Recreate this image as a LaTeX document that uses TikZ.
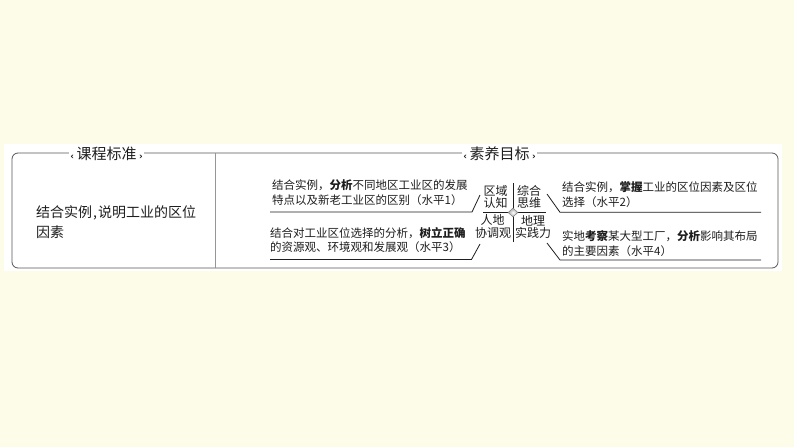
\documentclass[tikz,border=0pt]{standalone}
\usepackage{fontspec}
\setmainfont{Noto Sans CJK SC}
\newfontfamily\symf{DejaVu Sans}
\usetikzlibrary{shapes.geometric}
\definecolor{bgcream}{RGB}{253,252,232}
\definecolor{framegray}{RGB}{85,85,85}
\definecolor{divgray}{RGB}{150,150,150}
\definecolor{ink}{RGB}{30,30,30}
\tikzset{
  txt/.style={anchor=base west, inner sep=0pt, text=ink, font=\fontsize{11.5}{14}\selectfont},
  lbl/.style={anchor=base, inner sep=0pt, text=ink, font=\fontsize{12}{14}\selectfont},
  lefttxt/.style={anchor=base west, inner sep=0pt, text=ink, font=\fontsize{14}{16}\selectfont},
  ttl/.style={anchor=base, fill=white, inner xsep=1.5pt, inner ysep=1pt, text=ink, font=\fontsize{15}{18}\selectfont},
  ulrule/.style={ink, line width=0.8pt},
  crossrule/.style={ink, line width=0.7pt},
}
\begin{document}
\begin{tikzpicture}[x=1pt,y=-1pt]
\useasboundingbox (0,0) rectangle (794,447);
\fill[bgcream] (0,0) rectangle (794,447);
\fill[white] (4,144) rectangle (782,271);
% frame
\draw[framegray, line width=0.8pt, rounded corners=6pt] (12,153) rectangle (778,268);
\draw[divgray, line width=1.6pt] (215.5,153) -- (215.5,268);
% titles
\node[ttl] (t-left) at (106.5,159.5) {{\symf\bfseries\fontsize{9}{10}\selectfont ‹}\,课程标准\,{\symf\bfseries\fontsize{9}{10}\selectfont ›}};
\node[ttl] (t-right) at (499.5,159.5) {{\symf\bfseries\fontsize{9}{10}\selectfont ‹}\,素养目标\,{\symf\bfseries\fontsize{9}{10}\selectfont ›}};
% left text
\node[lefttxt] (std1) at (36,217) {结合实例\kern1pt,\kern1pt说明工业的区位};
\node[lefttxt] (std2) at (36,237) {因素};
% right texts
\node[txt] (a1) at (272,189.5) {结合实例，{\bfseries 分析}不同地区工业区的发展};
\node[txt] (a2) at (272,204.5) {特点以及新老工业区的区别（水平1）};
\node[txt] (c1) at (270,237) {结合对工业区位选择的分析，{\bfseries 树立正确}};
\node[txt] (c2) at (270,251.5) {的资源观、环境观和发展观（水平3）};
\node[txt] (b1) at (562,191) {结合实例，{\bfseries 掌握}工业的区位因素及区位};
\node[txt] (b2) at (562,206) {选择（水平2）};
\node[txt] (d1) at (562,240.5) {实地{\bfseries 考察}某大型工厂，{\bfseries 分析}影响其布局};
\node[txt] (d2) at (562,255) {的主要因素（水平4）};
% center labels
\node[lbl] (q1) at (495.5,195.3) {区域};
\node[lbl] (q2) at (495.5,207.9) {认知};
\node[lbl] (z1) at (529,195.3) {综合};
\node[lbl] (z2) at (529,207.9) {思维};
\node[lbl] (r1) at (492.5,224.6) {人地};
\node[lbl] (r2) at (493,237) {协调观};
\node[lbl] (s1) at (533,225.2) {地理};
\node[lbl] (s2) at (533,237.2) {实践力};
% cross
\coordinate (vtop) at (513,183);
\coordinate (vbot) at (513,242);
\coordinate (hl) at (483,212.5);
\coordinate (hr) at (546,212.5);
\draw[crossrule] (vtop) -- (vbot);
\draw[crossrule] (hl) -- (hr);
\node[diamond, draw=gray, line width=0.5pt, minimum width=10pt, minimum height=9pt, inner sep=0pt, shading=radial, inner color=white, outer color=gray!70] (dm) at (513,212.5) {};
% underline connectors
\coordinate (u1s) at (270,212);
\coordinate (u1k) at (472,212);
\coordinate (u1e) at (480,195);
\draw[ulrule] (u1s) -- (u1k) -- (u1e);
\coordinate (u3s) at (270,259.5);
\coordinate (u3k) at (471.5,259.5);
\coordinate (u3e) at (480,244);
\draw[ulrule] (u3s) -- (u3k) -- (u3e);
\coordinate (u2s) at (547,194);
\coordinate (u2k) at (560,212.3);
\coordinate (u2e) at (761,212.3);
\draw[ulrule] (u2s) -- (u2k) -- (u2e);
\coordinate (u4s) at (547,243);
\coordinate (u4k) at (560,260);
\coordinate (u4e) at (761,260);
\draw[ulrule] (u4s) -- (u4k) -- (u4e);
\end{tikzpicture}
\end{document}
